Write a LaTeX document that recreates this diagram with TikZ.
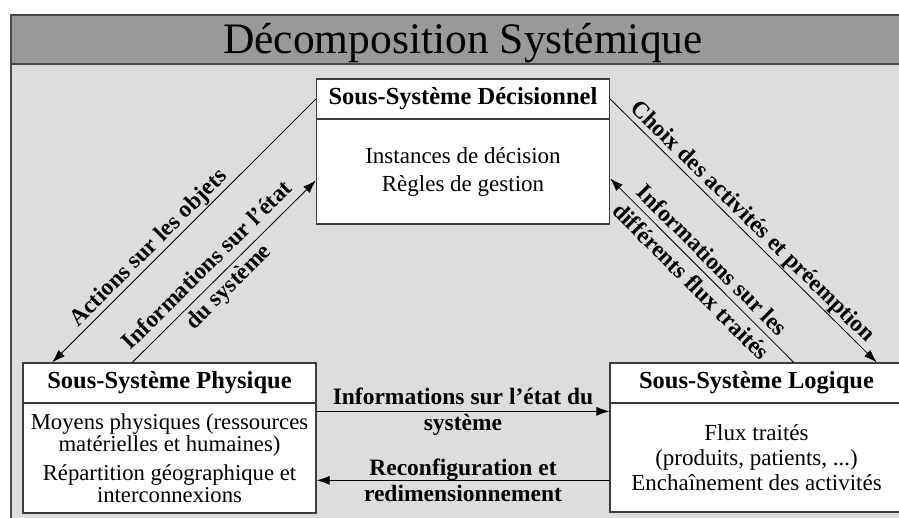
\documentclass[tikz,border=0pt]{standalone}
\usepackage{fontspec}
\setmainfont{Liberation Serif}
\usetikzlibrary{arrows.meta,calc}
\definecolor{bandgray}{HTML}{999999}
\definecolor{bggray}{HTML}{DDDDDD}
\definecolor{framegray}{HTML}{4A4A4A}
\definecolor{boxline}{HTML}{3C3C3C}
\begin{document}
\begin{tikzpicture}[x=1pt,y=-1pt,
  frameline/.style={draw=framegray, line width=1.6pt},
  hdr/.style={draw=boxline, fill=white, line width=1.3pt, minimum width=293pt,
    minimum height=40pt, inner sep=0pt, font=\fontsize{24.5}{26}\selectfont\bfseries},
  body/.style={draw=boxline, fill=white, line width=1.3pt, minimum width=293pt,
    inner sep=0pt, align=center},
  conn/.style={line width=0.8pt, -{Latex[length=13pt,width=9pt]}},
  lbl/.style={font=\fontsize{23.5}{26}\selectfont\bfseries, align=center, sloped, inner sep=1pt},
  dlbl/.style={lbl, font=\fontsize{23.5}{30}\selectfont\bfseries},
  titletext/.style={font=\fontsize{43.5}{48}\selectfont, anchor=base}
]
\useasboundingbox (0,0) rectangle (899,517);
\clip (0,0) rectangle (899,517);
% frame
\fill[bggray] (11,64) rectangle (930,540);
\fill[bandgray] (11,15) rectangle (930,64);
\draw[frameline] (930,15) -- (11,15) -- (11,540);
\draw[frameline] (11,64) -- (930,64);
\node[titletext] (title) at (463,53) {Décomposition Systémique};
% boxes
\node[hdr] (decH) at (463,99) {Sous-Système Décisionnel};
\node[body, minimum height=105pt, font=\fontsize{23}{25}\selectfont] (decB) at (463,171.5)
  {Instances de décision\\[3pt]Règles de gestion};
\node[hdr] (phyH) at (169.5,383) {Sous-Système Physique};
\node[body, minimum height=110pt, font=\fontsize{22.7}{22.5}\selectfont] (phyB) at (169.5,458)
  {Moyens physiques (ressources\\matérielles et humaines)\\[6pt]Répartition géographique et\\interconnexions};
\node[hdr] (logH) at (756.5,383) {Sous-Système Logique};
\node[body, minimum height=109pt, font=\fontsize{23}{25}\selectfont] (logB) at (756.5,457.5)
  {Flux traités\\(produits, patients, ...)\\Enchaînement des activités};
% connectors
\draw[conn] (decH.west) -- node[lbl, above, pos=0.6] {Actions sur les objets}
  ([xshift=30pt]phyH.north west);
\draw[conn] ([xshift=110pt]phyH.north west) -- node[dlbl, pos=0.47] {Informations sur l’état\\du système}
  ([yshift=-9pt]decB.west);
\draw[conn] (decH.east) -- node[lbl, above, pos=0.5] {Choix des activités et préemption}
  ([xshift=-27pt]logH.north east);
\draw[conn] ([xshift=-110pt]logH.north east) -- node[dlbl, pos=0.5] {Informations sur les\\différents flux traités}
  ([yshift=-7pt]decB.east);
\draw[conn] ([yshift=-9pt]phyB.north east) -- node[lbl, pos=0.5] {Informations sur l’état du\\système}
  ([yshift=-9pt]logB.north west);
\draw[conn] ([yshift=-78pt]logB.north west) -- node[lbl, pos=0.5] {Reconfiguration et\\redimensionnement}
  ([yshift=-78pt]phyB.north east);
\end{tikzpicture}
\end{document}
